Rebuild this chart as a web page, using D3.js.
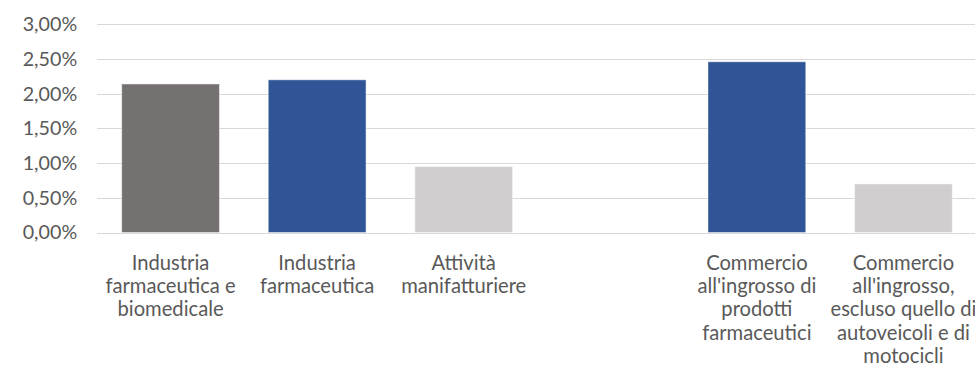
<!DOCTYPE html>
<html lang="it">
<head>
<meta charset="utf-8">
<script src="https://cdn.jsdelivr.net/npm/d3@7"></script>
<style>
  html, body { margin: 0; padding: 0; background: #fff; }
  svg { display: block; }
  text { font-family: Lato, "Open Sans", sans-serif; fill: #595959; }
</style>
</head>
<body>
<svg id="chart" width="975" height="371"></svg>
<script>
// Settori (l'elemento vuoto separa i due gruppi di barre)
const categories = [
  "Industria\nfarmaceutica e\nbiomedicale",
  "Industria\nfarmaceutica",
  "Attività\nmanifatturiere",
  "",
  "Commercio\nall'ingrosso di\nprodotti\nfarmaceutici",
  "Commercio\nall'ingrosso,\nescluso quello di\nautoveicoli e di\nmotocicli"
];
// Quota percentuale per settore
const values = [0.0214, 0.0220, 0.0095, null, 0.0246, 0.0070];
// Tipo di aggregato, usato per il colore
const kinds = ["aggregato", "farmaceutica", "totale", "", "farmaceutica", "totale"];
// Tacche dell'asse verticale
const yTicks = [0, 0.005, 0.01, 0.015, 0.02, 0.025, 0.03];

const svg = d3.select("#chart");
const plotLeft = 97.2, plotRight = 976.8, plotTop = 24.3, plotBottom = 232.5;

const x = d3.scaleBand()
  .domain(d3.range(categories.length))
  .range([plotLeft, plotRight])
  .paddingInner(0.333)
  .paddingOuter(0.167);

const y = d3.scaleLinear().domain([0, 0.03]).range([plotBottom, plotTop]);

const color = d3.scaleOrdinal()
  .domain(["aggregato", "farmaceutica", "totale"])
  .range(["#767171", "#2F5597", "#D0CECE"]);

const fmt = v => d3.format(".2f")(v * 100).replace(".", ",") + "%";

// Griglia orizzontale
svg.append("g")
  .selectAll("line")
  .data(yTicks)
  .join("line")
  .attr("x1", plotLeft)
  .attr("x2", 975)
  .attr("y1", d => Math.round(y(d)) + 0.5)
  .attr("y2", d => Math.round(y(d)) + 0.5)
  .attr("stroke", "#D9D9D9")
  .attr("stroke-width", 1);

// Asse verticale: solo etichette
const yAxis = svg.append("g")
  .attr("transform", `translate(${plotLeft},0)`)
  .call(d3.axisLeft(y).tickValues(yTicks).tickFormat(fmt).tickSize(0).tickPadding(20));
yAxis.select(".domain").remove();
yAxis.selectAll("text")
  .attr("font-size", 19.7)
  .attr("fill", "#5a5a5a")
  .style("font-family", "Lato, 'Open Sans', sans-serif");

// Barre
const data = categories.map((c, i) => ({ i, c, v: values[i], k: kinds[i] }));
svg.append("g")
  .selectAll("rect")
  .data(data.filter(d => d.v != null))
  .join("rect")
  .attr("x", d => x(d.i))
  .attr("width", x.bandwidth())
  .attr("y", d => y(d.v))
  .attr("height", d => y(0) - y(d.v))
  .attr("fill", d => color(d.k))
  .attr("stroke", "#fff")
  .attr("stroke-opacity", 0.45)
  .attr("stroke-width", 1);

// Etichette delle categorie, su più righe
const labels = svg.append("g")
  .selectAll("text")
  .data(data)
  .join("text")
  .attr("text-anchor", "middle")
  .attr("font-size", 20.2)
  .attr("fill", "#5a5a5a")
  .attr("y", 270);
labels.selectAll("tspan")
  .data(d => d.c ? d.c.split("\n").map(line => ({ line, i: d.i })) : [])
  .join("tspan")
  .attr("x", d => x(d.i) + x.bandwidth() / 2)
  .attr("dy", (d, j) => j === 0 ? 0 : 23.2)
  .text(d => d.line);
</script>
</body>
</html>
